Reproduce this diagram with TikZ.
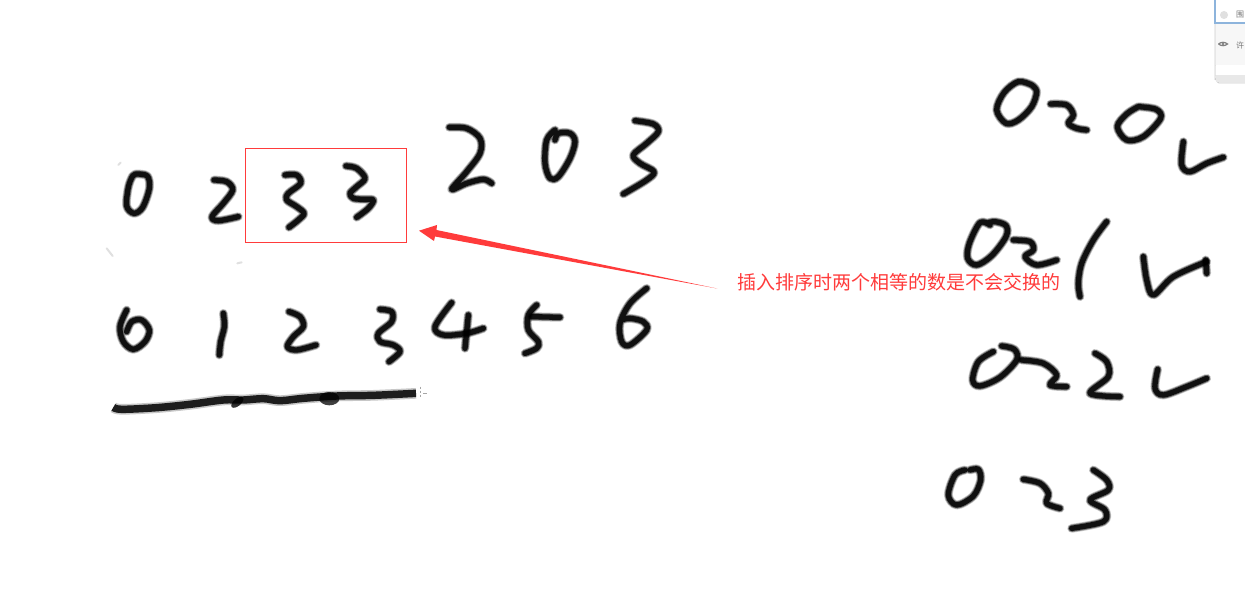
\documentclass[tikz,border=0pt]{standalone}
\usepackage{fontspec}
\newfontfamily\cjk{Noto Sans CJK SC}
\definecolor{markred}{HTML}{FF3B3B}
\definecolor{panelblue}{HTML}{8DB4DC}
\tikzset{
  inkhalo/.style={draw=black,opacity=.22,line width=6.6pt,line cap=round,line join=round},
  inkmid/.style={draw=black,opacity=.45,line width=5.4pt,line cap=round,line join=round},
  inkcore/.style={draw=black,opacity=.85,line width=4pt,line cap=round,line join=round},
  zoomed/.style={x=.25pt,y=-.25pt},
  smudge/.style={draw=black!12,line width=1.5pt,line cap=round},
  panelrule/.style={draw=black!12,line width=.6pt},
  paneltext/.style={font=\cjk\fontsize{6}{6}\selectfont,text=black!55,inner sep=0pt}
}
\newcommand\hand[1]{%
  \draw[inkhalo] plot[smooth,tension=.55] coordinates {#1};
  \draw[inkmid] plot[smooth,tension=.55] coordinates {#1};
  \draw[inkcore] plot[smooth,tension=.55] coordinates {#1};}
\begin{document}
\begin{tikzpicture}[x=.75pt,y=-.75pt]
\useasboundingbox (0,0) rectangle (1245,595);
\fill[white] (0,0) rectangle (1245,595);

% panel, top right
\fill[black!3] (1215,-2) -- (1247,-2) -- (1247,83) -- (1219,83) to[out=180,in=90] (1215,79) -- cycle;
\draw[black!20,line width=.6pt] (1247,83) -- (1219,83) to[out=180,in=90] (1215,79) -- (1215,23);
\fill[white] (1215,-2) rectangle (1247,23);
\draw[draw=panelblue,line width=.9pt] (1215,-2) -- (1215,23) -- (1247,23);
\fill[black!12] (1224,15) circle (4);
\draw[panelrule] (1215,65) -- (1247,65);
\fill[white] (1215.5,65.5) rectangle (1247,75);
\draw[panelrule] (1215,75) -- (1247,75);
\fill[black!9] (1215.5,75.5) rectangle (1247,82.5);
\node[paneltext] (panelA) at (1240,15) {围};
\node[paneltext] (panelB) at (1240,45) {许};
\draw[black!50,line width=.9pt] (1218.5,44) to[bend left=40] (1227.5,44) to[bend left=40] (1218.5,44);
\fill[black!50] (1223,44) circle (1.3);

% first row, left
\begin{scope}[shift={(90,100)},zoomed]
  \draw[smudge] (50,445) -- (68,468);
  \draw[smudge] (85,195) -- (92,188);
  \draw[smudge] (442,490) -- (455,487);
  \hand{(140,222)(172,228)(178,265)(158,322)(132,340)(110,318)(115,262)(128,228)(140,222)}
  \hand{(372,240)(410,245)(428,270)(400,310)(366,350)(385,362)(445,350)}
  \hand{(585,225)(620,225)(632,250)(595,280)(590,300)(620,320)(642,340)(625,360)(597,382)}
  \hand{(768,198)(800,205)(825,235)(800,260)(780,280)(790,295)(820,298)(850,300)(835,325)(800,352)}
\end{scope}

% first and second row, middle
\begin{scope}[shift={(430,100)},zoomed]
  \hand{(58,82)(110,85)(150,115)(150,160)(110,215)(65,268)(110,250)(160,238)(185,250)}
  \hand{(375,90)(350,120)(345,190)(360,235)(385,230)(420,175)(435,125)(420,100)(385,100)(375,120)}
  \hand{(615,62)(670,72)(685,95)(650,130)(610,165)(630,190)(672,215)(650,240)(580,282)}
  \hand{(65,608)(15,680)(40,705)(110,700)(160,685)}
  \hand{(115,645)(105,745)}
  \hand{(320,615)(295,645)(295,690)(325,725)(320,745)(285,760)}
  \hand{(305,650)(390,652)}
  \hand{(650,565)(600,610)(570,670)(575,725)(600,735)(650,690)(640,665)(600,655)(575,660)}
\end{scope}

% second row, left, and the long line
\begin{scope}[shift={(90,270)},zoomed]
  \hand{(110,120)(90,170)(100,215)(130,238)(165,215)(178,180)(155,150)(125,155)(110,185)}
  \hand{(400,130)(403,170)(392,215)(388,255)}
  \hand{(597,125)(630,140)(640,170)(610,200)(592,230)(620,240)(678,225)}
  \hand{(870,118)(905,125)(905,155)(865,190)(870,215)(910,225)(930,245)(897,275)}
  \draw[inkhalo,line width=8pt,line cap=butt] plot[smooth,tension=.55] coordinates {(70,412)(95,418)(200,413)(300,403)(400,390)(460,390)(520,386)(570,392)(640,385)(740,378)(850,376)(978,370)};
  \draw[inkcore,line width=5.6pt,line cap=butt] plot[smooth,tension=.55] coordinates {(70,412)(95,418)(200,413)(300,403)(400,390)(460,390)(520,386)(570,392)(640,385)(740,378)(850,376)(978,370)};
  \fill[black,opacity=.8,rotate around={40:(442,397)}] (442,397) ellipse [x radius=22,y radius=11];
  \fill[black,opacity=.75] (718,386) ellipse [x radius=30,y radius=20];
  \draw[black!35,line width=.5pt,dash pattern=on 1.5pt off 1.5pt] (990,350) -- (990,386);
  \draw[black!35,line width=.5pt] (1000,369) -- (1010,369);
\end{scope}

% right column
\begin{scope}[shift={(930,60)},zoomed]
  \hand{(305,75)(265,65)(222,98)(200,150)(228,190)(265,180)(305,140)(320,95)(305,75)}
  \hand{(362,132)(410,135)(430,165)(415,190)(440,205)(470,210)}
  \hand{(625,140)(590,162)(562,200)(590,240)(640,230)(692,175)(678,148)(625,140)}
  \hand{(760,245)(755,315)(780,335)(830,310)(880,292)}
  \hand{(180,495)(150,488)(118,550)(113,595)(140,615)(185,587)(228,530)(228,497)(195,485)(170,490)}
  \hand{(250,540)(300,545)(310,570)(285,590)(320,615)(380,600)}
  \hand{(530,485)(490,540)(455,610)(445,670)(450,710)}
  \hand{(640,590)(650,660)(670,705)(730,650)(830,605)}
  \hand{(827,600)(830,640)}
\end{scope}
\begin{scope}[shift={(930,320)},zoomed]
  \hand{(190,95)(145,125)(128,180)(150,198)(210,172)(260,120)(253,88)(215,78)}
  \hand{(275,120)(340,130)(380,165)(360,195)(410,200)}
  \hand{(495,100)(530,125)(535,170)(480,220)(570,230)}
  \hand{(683,148)(675,205)(700,225)(770,200)(830,175)}
  \hand{(105,450)(75,465)(55,525)(80,555)(130,528)(152,480)(145,448)(120,450)}
  \hand{(280,478)(330,490)(355,520)(350,550)(390,565)}
  \hand{(490,450)(530,480)(535,510)(480,540)(525,570)(520,605)(425,625)}
\end{scope}

% annotation
\node[draw=markred,line width=.75pt,minimum width=120.3pt,minimum height=70pt,inner sep=0pt] (frame) at (326,195.5) {};
\node[inner sep=0pt,text=markred,font=\cjk\fontsize{14.25}{15}\selectfont] (note) at (898.5,282) {插入排序时两个相等的数是不会交换的};
\coordinate (tail) at (717,288.5);
\coordinate (tip) at (419,230.7);
\fill[markred] (tip) -- (437,225) -- (436.5,230) -- (tail) -- (435,236.5) -- (434,241) -- cycle;
\end{tikzpicture}
\end{document}
